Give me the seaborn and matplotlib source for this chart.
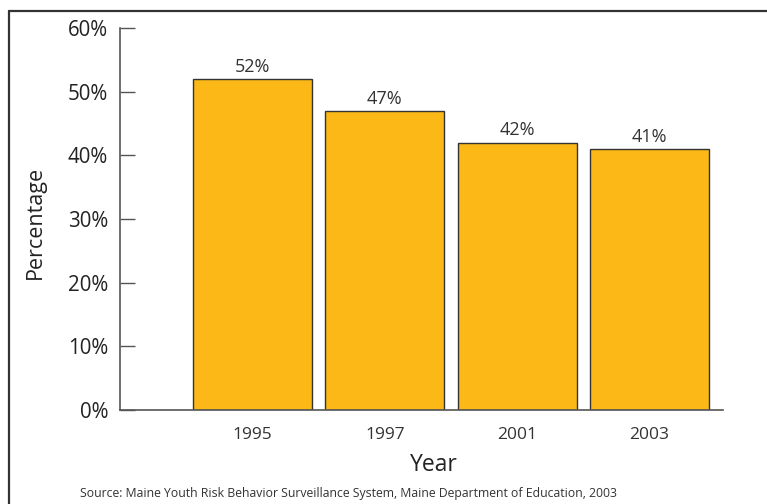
import matplotlib
matplotlib.use("Agg")
import matplotlib.pyplot as plt
import matplotlib.lines as mlines
import seaborn as sns
import pandas as pd

years = ["1995", "1997", "2001", "2003"]
percentages = [52, 47, 42, 41]
y_ticks = [0, 10, 20, 30, 40, 50, 60]
source_text = "Source: Maine Youth Risk Behavior Surveillance System, Maine Department of Education, 2003"

sns.set_style("white")
plt.rcParams["font.family"] = ["Open Sans", "DejaVu Sans"]

df = pd.DataFrame({"Year": years, "Percentage": percentages})

fig = plt.figure(figsize=(7.67, 5.04), dpi=100)
ax = fig.add_axes([0.1565, 0.1865, 0.786, 0.758])

sns.barplot(data=df, x="Year", y="Percentage", color="#FBB817", saturation=1,
            width=0.9, edgecolor="#333333", linewidth=1.0, ax=ax)

for i, v in enumerate(percentages):
    ax.text(i, v + 0.5, f"{v}%", ha="center", va="bottom", fontsize=13, color="#333333")

ax.set_ylim(0, 60)
ax.set_xlim(-1.0, 3.555)
ax.set_yticks(y_ticks)
ax.set_yticklabels([f"{t}%" for t in y_ticks], fontsize=14.8, color="#222222")
ax.tick_params(axis="y", direction="in", length=11, width=1.0, color="#555555", pad=8.5, left=True)
ax.tick_params(axis="x", length=0, pad=12.5, labelsize=12.5, labelcolor="#333333")

ax.set_ylabel("Percentage", fontsize=15.5, color="#222222", va="center")
ax.yaxis.set_label_coords(-0.141, 0.49)
ax.set_xlabel("Year", fontsize=16.5, color="#222222", va="center")
ax.xaxis.set_label_coords(0.52, (410 - 465) / 382)

for side in ["top", "right"]:
    ax.spines[side].set_visible(False)
for side in ["left", "bottom"]:
    ax.spines[side].set_color("#555555")
    ax.spines[side].set_linewidth(1.2)

fig.text(80 / 767, 1 - 493 / 504, source_text, fontsize=8.8, color="#333333", va="center", ha="left")

# outer frame (left and top edges)
x0 = 8.5 / 767
y0 = 1 - 10.5 / 504
fig.add_artist(mlines.Line2D([x0, x0], [0, y0], transform=fig.transFigure, color="#333333", lw=1.6))
fig.add_artist(mlines.Line2D([x0, 1], [y0, y0], transform=fig.transFigure, color="#333333", lw=1.6))

fig.savefig("out.png", dpi=100)
